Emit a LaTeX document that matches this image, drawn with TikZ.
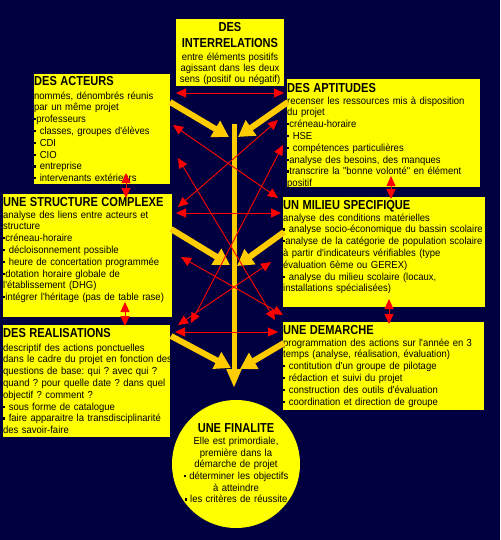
\documentclass[tikz,border=0pt]{standalone}
\usepackage{fontspec}
\setmainfont{Liberation Sans}
\newfontfamily\titlefont{Liberation Sans}[FakeStretch=0.85]
\newfontfamily\bodyfont{Liberation Sans}[FakeStretch=0.93]
\usetikzlibrary{arrows.meta}
\definecolor{navy}{RGB}{0,0,64}
\definecolor{gold}{RGB}{255,204,0}
\definecolor{yel}{RGB}{255,255,0}
\definecolor{redarr}{RGB}{255,0,0}
\newcommand{\bul}{\raisebox{2.2pt}{\rule{2.2pt}{2.2pt}}}
\newcommand{\ttl}[1]{{\titlefont\bfseries\fontsize{13}{13}\selectfont #1}}
\frenchspacing
\begin{document}
\begin{tikzpicture}[x=1pt,y=-1pt,
  box/.style={fill=yel, draw=none, anchor=north west, inner sep=0},
  txt/.style={anchor=north west, inner sep=0, text width=260pt, align=left,
    font=\bodyfont\fontsize{10.2}{11.8}\selectfont, text=black},
  ctxt/.style={anchor=north, inner sep=0, text width=150pt, align=center,
    font=\bodyfont\fontsize{10.2}{11.6}\selectfont, text=black},
  rarr/.style={draw=redarr, line width=0.9pt,
    {Triangle[length=10pt,width=9pt]}-{Triangle[length=10pt,width=9pt]}},
  oarr/.style={draw=gold, line width=6pt, -{Triangle[length=16pt,width=18pt]}},
]
\useasboundingbox (0,0) rectangle (500,540);
\fill[navy] (0,0) rectangle (500,540);

% boxes
\node[box, minimum width=108pt, minimum height=67pt] (inter) at (176,19) {};
\node[box, minimum width=136pt, minimum height=110pt] (acteurs) at (34,74) {};
\node[box, minimum width=193pt, minimum height=108pt] (aptitudes) at (287,79) {};
\node[box, minimum width=169pt, minimum height=123pt] (structure) at (3,194) {};
\node[box, minimum width=202pt, minimum height=110pt] (milieu) at (283,197) {};
\node[box, minimum width=167pt, minimum height=112pt] (realis) at (3,325) {};
\node[box, minimum width=201pt, minimum height=88pt] (demarche) at (283,322) {};
\node[circle, fill=yel, minimum size=128pt, inner sep=0] (finalite) at (236,464) {};

% texts
\node[ctxt, font=\bodyfont\fontsize{10.2}{11}\selectfont] (inter-t) at (230,22)
 {\ttl{DES}\\[5pt] \ttl{INTERRELATIONS}\\[2pt]
  entre éléments positifs\\ agissant dans les deux\\ sens (positif ou négatif)};

\node[txt] (acteurs-t) at (34,76)
 {\ttl{DES ACTEURS}\\[2pt]
  nommés, dénombrés réunis\\
  par un même projet\\
  \bul professeurs\\
  \bul\ classes, groupes d'élèves\\
  \bul\ CDI\\
  \bul\ CIO\\
  \bul\ entreprise\\
  \bul\ intervenants extérieurs};

\node[txt] (aptitudes-t) at (287,83)
 {\ttl{DES APTITUDES}\\
  recenser les ressources mis à disposition\\
  du projet\\
  \bul créneau-horaire\\
  \bul\ HSE\\
  \bul\ compétences particulières\\
  \bul analyse des besoins, des manques\\
  \bul transcrire la "bonne volonté" en élément\\
  positif};

\node[txt] (structure-t) at (3,197)
 {\ttl{UNE STRUCTURE COMPLEXE}\\
  analyse des liens entre acteurs et\\
  structure\\
  \bul créneau-horaire\\
  \bul\ décloisonnement possible\\
  \bul\ heure de concertation programmée\\
  \bul dotation horaire globale de\\
  l'établissement (DHG)\\
  \bul intégrer l'héritage (pas de table rase)};

\node[txt] (milieu-t) at (283,200)
 {\ttl{UN MILIEU SPECIFIQUE}\\
  analyse des conditions matérielles\\
  \bul\ analyse socio-économique du bassin scolaire\\
  \bul analyse de la catégorie de population scolaire\\
  à partir d'indicateurs vérifiables (type\\
  évaluation 6ème ou GEREX)\\
  \bul\ analyse du milieu scolaire (locaux,\\
  installations spécialisées)};

\node[txt] (realis-t) at (3,328)
 {\ttl{DES REALISATIONS}\\[2pt]
  descriptif des actions ponctuelles\\
  dans le cadre du projet en fonction des\\
  questions de base: qui ? avec qui ?\\
  quand ? pour quelle date ? dans quel\\
  objectif ? comment ?\\
  \bul\ sous forme de catalogue\\
  \bul\ faire apparaitre la transdisciplinarité\\
  des savoir-faire};

\node[txt] (demarche-t) at (283,325)
 {\ttl{UNE DEMARCHE}\\
  programmation des actions sur l'année en 3\\
  temps (analyse, réalisation, évaluation)\\
  \bul\ contitution d'un groupe de pilotage\\
  \bul\ rédaction et suivi du projet\\
  \bul\ construction des outils d'évaluation\\
  \bul\ coordination et direction de groupe};

\node[ctxt] (finalite-t) at (236,423)
 {\ttl{UNE FINALITE}\\[1pt]
  Elle est primordiale,\\
  première dans la\\
  démarche de projet\\
  \bul\ déterminer les objectifs\\
  à atteindre\\
  \bul\ les critères de réussite};

% orange arrows
\coordinate (vtop) at (234,124);
\coordinate (vbot) at (234,388);
\draw[draw=gold, line width=5pt, -{Triangle[length=19pt,width=14pt]}] (vtop) -- (vbot);
\coordinate (o1s) at (170,102); \coordinate (o1e) at (229,137);
\coordinate (o2s) at (288,102); \coordinate (o2e) at (238,137);
\coordinate (o3s) at (171,229); \coordinate (o3e) at (230,265);
\coordinate (o4s) at (284,232); \coordinate (o4e) at (237,266);
\coordinate (o5s) at (171,336); \coordinate (o5e) at (231,368);
\coordinate (o6s) at (284,343); \coordinate (o6e) at (240,369);
\draw[oarr] (o1s) -- (o1e);
\draw[oarr] (o2s) -- (o2e);
\draw[oarr] (o3s) -- (o3e);
\draw[oarr] (o4s) -- (o4e);
\draw[oarr] (o5s) -- (o5e);
\draw[oarr] (o6s) -- (o6e);

% red arrows
\coordinate (h0a) at (176,93);  \coordinate (h0b) at (284,93);
\coordinate (h1a) at (176,213); \coordinate (h1b) at (281,213);
\coordinate (h2a) at (175,332); \coordinate (h2b) at (278,332);
\coordinate (v1a) at (126,173); \coordinate (v1b) at (126,198);
\coordinate (v2a) at (391,176); \coordinate (v2b) at (391,199);
\coordinate (v3a) at (125,302); \coordinate (v3b) at (125,326);
\coordinate (v4a) at (389,299); \coordinate (v4b) at (389,324);
\coordinate (da1) at (173,125); \coordinate (da2) at (278,198);
\coordinate (db1) at (278,120); \coordinate (db2) at (178,207);
\coordinate (dc1) at (178,158); \coordinate (dc2) at (275,320);
\coordinate (dd1) at (283,145); \coordinate (dd2) at (191,323);
\coordinate (de1) at (181,257); \coordinate (de2) at (283,315);
\coordinate (df1) at (271,262); \coordinate (df2) at (178,325);
\foreach \a/\b in {h0a/h0b,h1a/h1b,h2a/h2b,v1a/v1b,v2a/v2b,v3a/v3b,v4a/v4b,
  da1/da2,db1/db2,dc1/dc2,dd1/dd2,de1/de2,df1/df2}
  \draw[rarr] (\a) -- (\b);
\end{tikzpicture}
\end{document}
